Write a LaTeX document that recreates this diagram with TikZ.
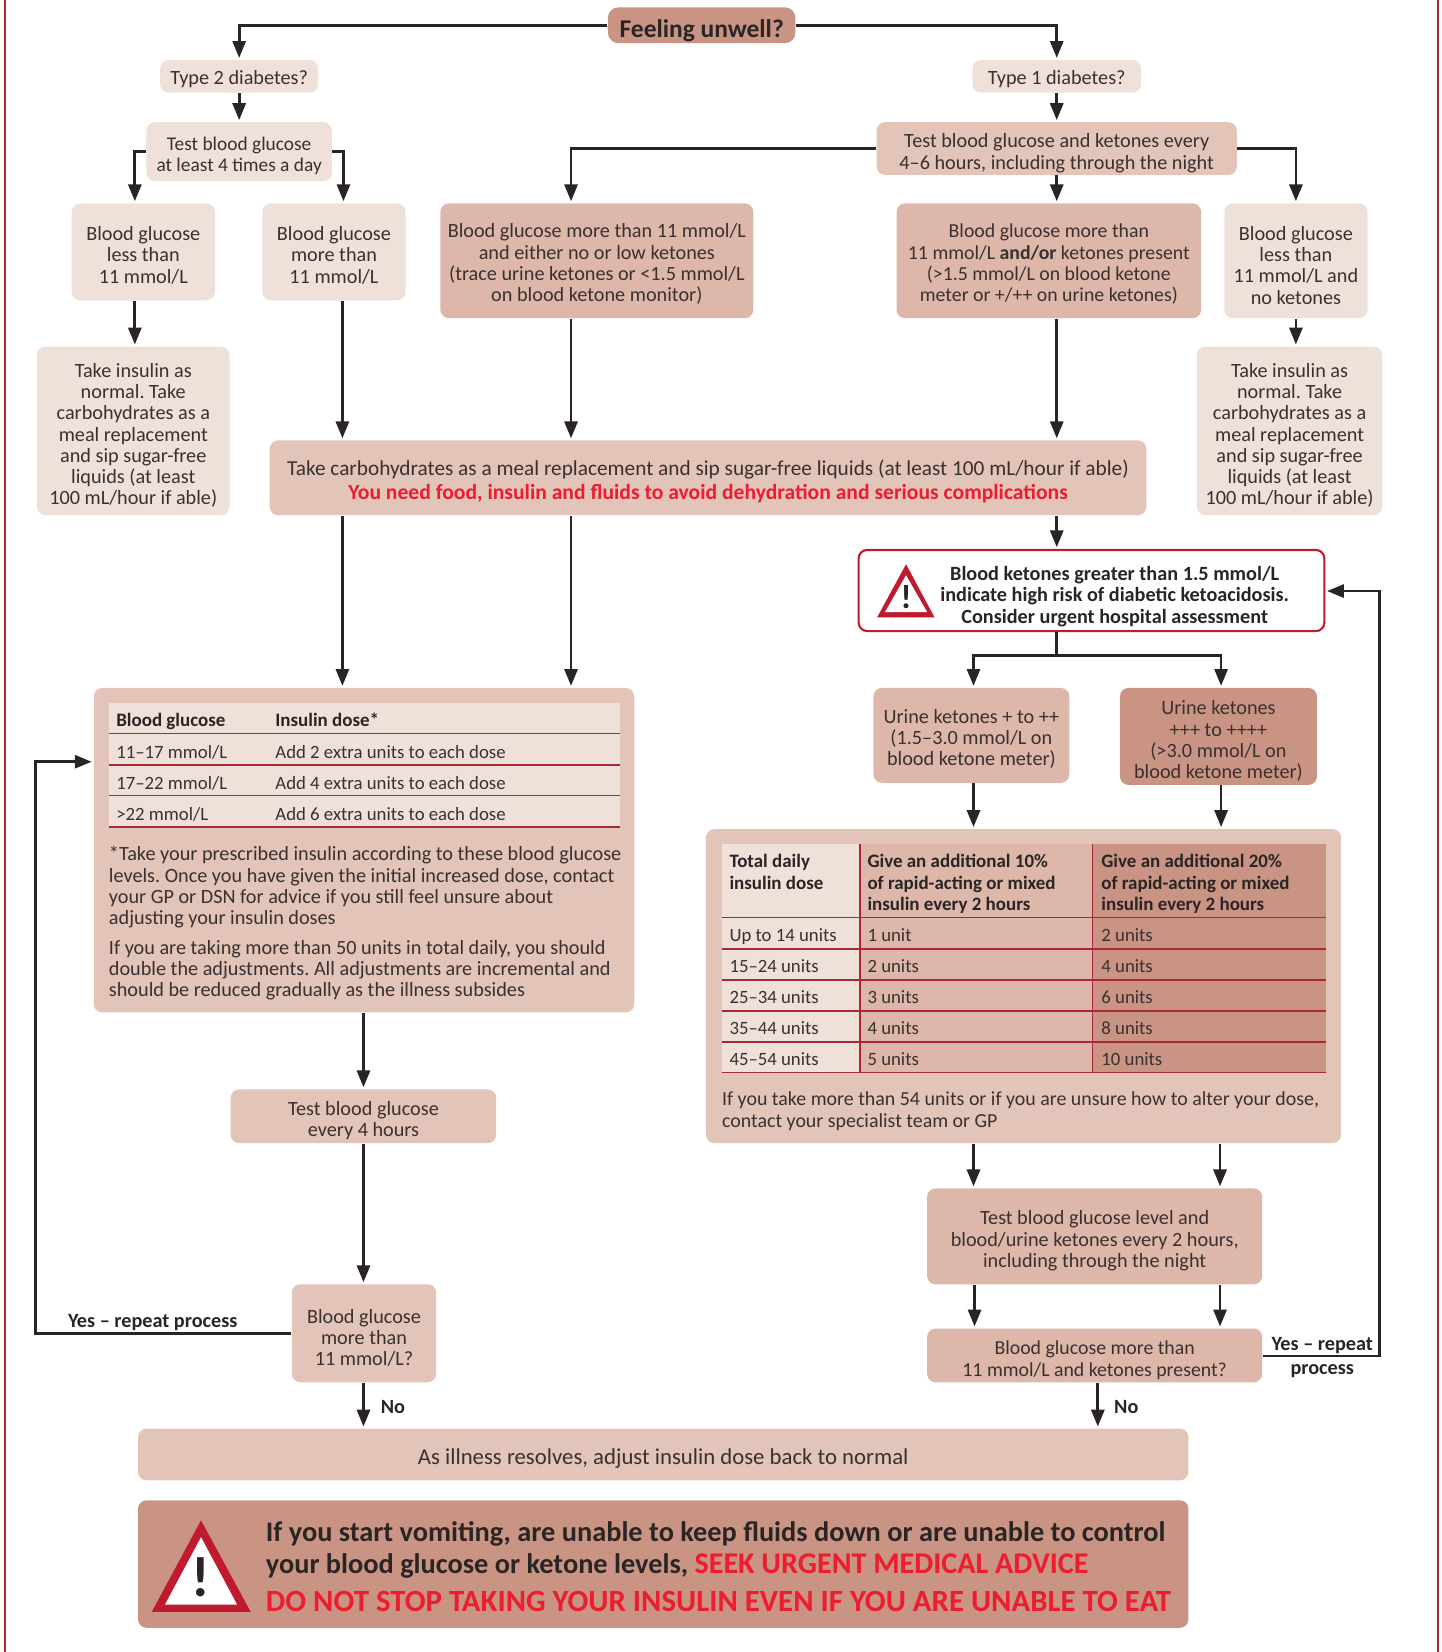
\documentclass[tikz,border=0pt]{standalone}
\usepackage{fontspec}
\setmainfont{Carlito}
\usetikzlibrary{arrows.meta}
\frenchspacing
\definecolor{ink}{HTML}{2A2425}
\definecolor{txt}{HTML}{3A3030}
\definecolor{light}{HTML}{EFE0DA}
\definecolor{mid}{HTML}{E2C4B9}
\definecolor{strong}{HTML}{DDB7AA}
\definecolor{deep}{HTML}{C99484}
\definecolor{rule}{HTML}{A8283A}
\definecolor{frame}{HTML}{A02C34}
\definecolor{alert}{HTML}{ED1C2E}
\definecolor{tri}{HTML}{C01A30}
\newcommand{\bodyf}{\fontsize{9.6}{10.1}\selectfont}
\newcommand{\tablef}{\fontsize{8.9}{10.2}\selectfont}
\newcommand{\headf}{\fontsize{9}{10.2}\selectfont\bfseries}
\newcommand{\labf}{\fontsize{9.6}{10.2}\selectfont\bfseries}
\tikzset{
  boxlight/.style={fill=light},
  boxmid/.style={fill=mid},
  boxstrong/.style={fill=strong},
  boxdeep/.style={fill=deep},
  anybox/.style={rounded corners=4pt,inner sep=0pt,align=center,text=txt,font=\bodyf},
  arr/.style={draw=ink,line width=1.3pt,-{Triangle[length=8pt,width=6.2pt]},shorten >=0.8pt},
  plainline/.style={draw=ink,line width=1.3pt},
  rowrule/.style={draw=rule,line width=0.75pt},
  celltext/.style={anchor=base west,inner sep=0pt,text=txt,font=\tablef},
  headtext/.style={anchor=base west,inner sep=0pt,text=ink,font=\headf},
  para/.style={anchor=north west,inner sep=0pt,align=left,text=txt,font=\bodyf},
  lab/.style={inner sep=0pt,align=center,text=ink,font=\labf},
  finaltext/.style={inner sep=0pt,anchor=base west,text=ink}
}
\newcommand{\bxrulesize}{11pt}
\newcommand{\bx}[7]{%
  \pgfmathsetmacro\bcx{(#3+#5)/2}%
  \pgfmathsetmacro\bcy{(#4+#6)/2}%
  \pgfmathsetmacro\bw{(#5-#3)*0.5}%
  \pgfmathsetmacro\bh{(#6-#4)*0.5}%
  \node[anybox,#2,minimum width=\bw pt,minimum height=\bh pt] (#1) at (\bcx,\bcy) {\rule{0pt}{\bxrulesize}#7};}
\begin{document}
\begin{tikzpicture}[x=0.5pt,y=-0.5pt]
\useasboundingbox (0,0) rectangle (1368,1568);
% page frame
\draw[frame,line width=1pt] (5,0) -- (5,1568);
\draw[frame,line width=1pt] (1365,0) -- (1365,1568);
% guides for connector columns
\coordinate (g128) at (128,0);
\coordinate (g326) at (326,0);
\coordinate (g325) at (325,0);
\coordinate (g542) at (542,0);
\coordinate (g1003) at (1003,0);
\coordinate (g1230) at (1230,0);
\coordinate (g924) at (924,0);
\coordinate (g925) at (925,0);
\coordinate (g1159) at (1159,0);
\coordinate (g1158) at (1158,0);
\coordinate (g345) at (345,0);
\coordinate (g1042) at (1042,0);
\coordinate (g1309) at (1309,0);
\coordinate (g34) at (34,0);
\coordinate (h622) at (0,622);
\coordinate (h723) at (0,723);
\coordinate (h561) at (0,561);
\coordinate (h1287) at (0,1287);
\coordinate (h1266) at (0,1266);
% boxes
\renewcommand{\bxrulesize}{14pt}
\bx{feel}{boxdeep,rounded corners=5pt,text=ink,font=\fontsize{12.1}{13}\selectfont\bfseries}{577}{7}{755}{41}{Feeling unwell?}
\renewcommand{\bxrulesize}{9pt}
\bx{tt}{boxlight}{152}{57}{302}{88}{Type 2 diabetes?}
\bx{to}{boxlight}{923}{57}{1083}{88}{Type 1 diabetes?}
\renewcommand{\bxrulesize}{10pt}
\bx{testtwo}{boxlight,font=\fontsize{9.2}{10.1}\selectfont}{139}{116}{315}{172}{Test blood glucose\\at least 4 times a day}
\bx{bgless}{boxlight}{68}{193}{204}{285}{Blood glucose\\less than\\11 mmol/L}
\bx{bgmore}{boxlight}{249}{193}{385}{285}{Blood glucose\\more than\\11 mmol/L}
\bx{bgmid}{boxstrong}{418}{193}{715}{302}{Blood glucose more than 11 mmol/L\\and either no or low ketones\\(trace urine ketones or <1.5 mmol/L\\on blood ketone monitor)}
\bx{bgand}{boxstrong,font=\fontsize{9.4}{10.1}\selectfont}{851}{193}{1140}{302}{Blood glucose more than\\11 mmol/L \textbf{and/or} ketones present\\(>1.5 mmol/L on blood ketone\\meter or +/++ on urine ketones)}
\bx{uone}{boxstrong}{829}{653}{1015}{743}{Urine ketones + to ++\\(1.5--3.0 mmol/L on\\blood ketone meter)}
\renewcommand{\bxrulesize}{11pt}
\bx{testone}{boxmid}{832}{116}{1174}{166}{Test blood glucose and ketones every\\4--6 hours, including through the night}
\bx{bgr}{boxlight}{1162}{193}{1298}{302}{Blood glucose\\less than\\11 mmol/L and\\no ketones}
\bx{insl}{boxlight}{35}{329}{218}{489}{Take insulin as\\normal. Take\\carbohydrates as a\\meal replacement\\and sip sugar-free\\liquids (at least\\100 mL/hour if able)}
\bx{insr}{boxlight}{1136}{329}{1312}{489}{Take insulin as\\normal. Take\\carbohydrates as a\\meal replacement\\and sip sugar-free\\liquids (at least\\100 mL/hour if able)}
\bx{carbs}{boxmid,font=\fontsize{10.1}{10.6}\selectfont}{256}{418}{1088}{489}{Take carbohydrates as a meal replacement and sip sugar-free liquids (at least 100 mL/hour if able)\\[0.8pt]{\color{alert}\fontsize{10.25}{10.6}\selectfont\bfseries You need food, insulin and fluids to avoid dehydration and serious complications}}
\bx{warn}{draw=tri,fill=white,line width=1pt}{815}{522}{1257}{599}{}
\node[inner sep=0pt,align=center,text=ink,font=\fontsize{9.6}{10.2}\selectfont\bfseries] (warntext) at (1058,566) {Blood ketones greater than 1.5 mmol/L\\indicate high risk of diabetic ketoacidosis.\\Consider urgent hospital assessment};
\fill[tri] (860,535.5) -- (887,586) -- (832.5,586) -- cycle;
\fill[white] (860,546) -- (880,581) -- (840,581) -- cycle;
\node[inner sep=0pt,text=ink,font=\fontsize{16}{16}\selectfont\bfseries] (warnmark) at (860,567) {!};
\bx{uthree}{boxdeep}{1063}{653}{1250}{745}{Urine ketones\\+++ to ++++\\(>3.0 mmol/L on\\blood ketone meter)}
\bx{dosel}{boxmid}{89}{653}{602}{961}{}
\bx{doser}{boxmid}{670}{787}{1273}{1085}{}
\bx{evfour}{boxmid}{219}{1034}{471}{1085}{Test blood glucose\\every 4 hours}
\bx{bgq}{boxmid}{277}{1219}{414}{1312}{Blood glucose\\more than\\11 mmol/L?}
\bx{evtwo}{boxstrong}{880}{1128}{1198}{1219}{Test blood glucose level and\\blood/urine ketones every 2 hours,\\including through the night}
\bx{bgk}{boxstrong,font=\fontsize{9.4}{10.1}\selectfont}{880}{1261}{1198}{1312}{Blood glucose more than\\11 mmol/L and ketones present?}
\bx{resolve}{boxmid,font=\fontsize{10.8}{11}\selectfont}{131}{1356}{1128}{1405}{As illness resolves, adjust insulin dose back to normal}
\bx{final}{boxdeep}{131}{1424}{1128}{1545}{}
% left table
\fill[light] (103,667) rectangle (588,785);
\foreach \yy in {696,726,755,785} \draw[rowrule] (103,\yy) -- (588,\yy);
\node[headtext] (lh1) at (110,690) {Blood glucose};
\node[headtext] (lh2) at (261,690) {Insulin dose*};
\node[celltext] (la1) at (110,720) {11--17 mmol/L};
\node[celltext] (la2) at (261,720) {Add 2 extra units to each dose};
\node[celltext] (lb1) at (110,749) {17--22 mmol/L};
\node[celltext] (lb2) at (261,749) {Add 4 extra units to each dose};
\node[celltext] (lc1) at (110,779) {>22 mmol/L};
\node[celltext] (lc2) at (261,779) {Add 6 extra units to each dose};
\node[para] (lp1) at (103,803) {*Take your prescribed insulin according to these blood glucose\\levels. Once you have given the initial increased dose, contact\\your GP or DSN for advice if you still feel unsure about\\adjusting your insulin doses};
\node[para] (lp2) at (103,892) {If you are taking more than 50 units in total daily, you should\\double the adjustments. All adjustments are incremental and\\should be reduced gradually as the illness subsides};
% right table
\fill[light] (685,801) rectangle (816,1018);
\fill[strong] (816,801) rectangle (1037,1018);
\fill[deep] (1037,801) rectangle (1259,1018);
\foreach \yy in {871,900.5,930,959.5,989,1018} \draw[rowrule] (685,\yy) -- (1259,\yy);
\draw[rowrule] (816,801) -- (816,1018);
\draw[rowrule] (1037,801) -- (1037,1018);
\node[headtext,anchor=north west,align=left] (rh1) at (692,810) {Total daily\\[0.2pt]insulin dose};
\node[headtext,anchor=north west,align=left] (rh2) at (823,810) {Give an additional 10\%\\[0.2pt]of rapid-acting or mixed\\[0.2pt]insulin every 2 hours};
\node[headtext,anchor=north west,align=left] (rh3) at (1045,810) {Give an additional 20\%\\[0.2pt]of rapid-acting or mixed\\[0.2pt]insulin every 2 hours};
\node[celltext] (ra1) at (692,893.5) {Up to 14 units};
\node[celltext] (ra2) at (823,893.5) {1 unit};
\node[celltext] (ra3) at (1045,893.5) {2 units};
\node[celltext] (rb1) at (692,923) {15--24 units};
\node[celltext] (rb2) at (823,923) {2 units};
\node[celltext] (rb3) at (1045,923) {4 units};
\node[celltext] (rc1) at (692,952) {25--34 units};
\node[celltext] (rc2) at (823,952) {3 units};
\node[celltext] (rc3) at (1045,952) {6 units};
\node[celltext] (rd1) at (692,982) {35--44 units};
\node[celltext] (rd2) at (823,982) {4 units};
\node[celltext] (rd3) at (1045,982) {8 units};
\node[celltext] (re1) at (692,1011) {45--54 units};
\node[celltext] (re2) at (823,1011) {5 units};
\node[celltext] (re3) at (1045,1011) {10 units};
\node[para,font=\fontsize{9.45}{10.4}\selectfont] (rp) at (685,1036) {If you take more than 54 units or if you are unsure how to alter your dose,\\contact your specialist team or GP};
% final alert
\fill[tri] (190.8,1443) -- (238,1530) -- (144,1530) -- cycle;
\fill[white] (190.8,1459) -- (225,1523) -- (156.6,1523) -- cycle;
\node[inner sep=0pt,text=ink,font=\fontsize{27}{27}\selectfont\bfseries] (finalmark) at (190.8,1497) {!};
\node[finaltext,font=\fontsize{13.45}{15}\selectfont\bfseries] (f1) at (252,1463) {If you start vomiting, are unable to keep fluids down or are unable to control};
\node[finaltext,font=\fontsize{13.45}{15}\selectfont\bfseries] (f2) at (252,1493) {your blood glucose or ketone levels, {\color{alert}\fontsize{14.3}{15}\selectfont SEEK URGENT MEDICAL ADVICE}};
\node[finaltext,text=alert,font=\fontsize{14.65}{15}\selectfont\bfseries] (f3) at (252,1530) {DO NOT STOP TAKING YOUR INSULIN EVEN IF YOU ARE UNABLE TO EAT};
% labels
\node[lab] (yesl) at (145,1255) {Yes -- repeat process};
\node[lab] (yesr) at (1255,1277) {Yes -- repeat};
\node[lab] (yesr2) at (1255,1301) {process};
\node[lab] (nol) at (373,1335) {No};
\node[lab] (nor) at (1069,1335) {No};
% connectors
\draw[arr] (feel.west) -| (tt.north);
\draw[arr] (feel.east) -| (to.north);
\draw[arr] (tt.south) -- (testtwo.north);
\draw[arr] (to.south) -- (testone.north -| to.south);
\draw[arr] (testtwo.west) -| (bgless.north -| g128);
\draw[arr] (testtwo.east) -| (bgmore.north -| g326);
\draw[arr] (testone.west) -| (bgmid.north -| g542);
\draw[arr] (testone.east) -| (bgr.north -| g1230);
\draw[arr] (testone.south -| g1003) -- (bgand.north -| g1003);
\draw[arr] (bgless.south -| g128) -- (insl.north -| g128);
\draw[arr] (bgr.south -| g1230) -- (insr.north -| g1230);
\draw[arr] (bgmore.south -| g325) -- (carbs.north -| g325);
\draw[arr] (bgmid.south -| g542) -- (carbs.north -| g542);
\draw[arr] (bgand.south -| g1003) -- (carbs.north -| g1003);
\draw[arr] (carbs.south -| g325) -- (dosel.north -| g325);
\draw[arr] (carbs.south -| g542) -- (dosel.north -| g542);
\draw[arr] (carbs.south -| g1003) -- (warn.north -| g1003);
\draw[plainline] (warn.south -| g1003) -- (g1003 |- h622);
\draw[arr] (g924 |- h622) -- (uone.north -| g924);
\draw[arr] (g1159 |- h622) -- (uthree.north -| g1159);
\draw[plainline,line cap=rect] (g924 |- h622) -- (g1159 |- h622);
\draw[arr] (uone.south -| g924) -- (doser.north -| g924);
\draw[arr] (uthree.south -| g1159) -- (doser.north -| g1159);
\draw[arr] (doser.south -| g924) -- (evtwo.north -| g924);
\draw[arr] (doser.south -| g1158) -- (evtwo.north -| g1158);
\draw[arr] (evtwo.south -| g925) -- (bgk.north -| g925);
\draw[arr] (evtwo.south -| g1158) -- (bgk.north -| g1158);
\draw[arr] (bgk.south -| g1042) -- (resolve.north -| g1042);
\draw[arr] (bgk.east |- h1287) -- (g1309 |- h1287) -- (g1309 |- h561) -- (warn.east |- h561);
\draw[arr] (dosel.south -| g345) -- (evfour.north -| g345);
\draw[arr] (evfour.south -| g345) -- (bgq.north -| g345);
\draw[arr] (bgq.south -| g345) -- (resolve.north -| g345);
\draw[arr] (bgq.west |- h1266) -- (g34 |- h1266) -- (g34 |- h723) -- (dosel.west |- h723);
\end{tikzpicture}
\end{document}
